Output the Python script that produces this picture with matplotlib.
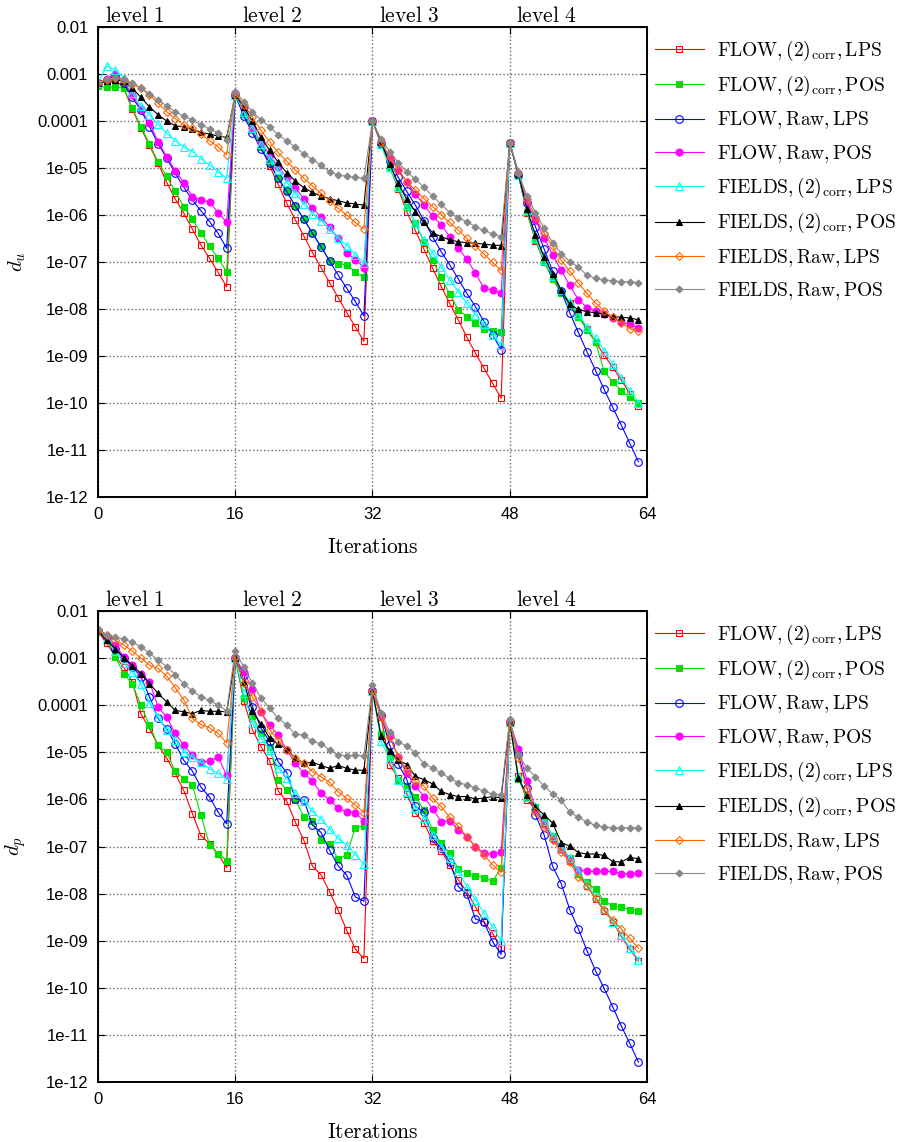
import matplotlib
matplotlib.use('Agg')
import matplotlib.pyplot as plt
from matplotlib.ticker import NullLocator
import numpy as np


ITERATIONS = list(range(64))
X_TICKS = [0, 16, 32, 48, 64]
Y_TICKS = [1e-2, 1e-3, 1e-4, 1e-5, 1e-6, 1e-7, 1e-8, 1e-9, 1e-10, 1e-11, 1e-12]
Y_TICK_LABELS = ['0.01', '0.001', '0.0001', '1e-05', '1e-06', '1e-07',
                 '1e-08', '1e-09', '1e-10', '1e-11', '1e-12']
LEVEL_NAMES = ['level 1', 'level 2', 'level 3', 'level 4']
LEVEL_STARTS = [0, 16, 32, 48]
SERIES_NAMES = ['FLOW,(2)_{corr},LPS', 'FLOW,(2)_{corr},POS',
                'FLOW,Raw,LPS', 'FLOW,Raw,POS',
                'FIELDS,(2)_{corr},LPS', 'FIELDS,(2)_{corr},POS',
                'FIELDS,Raw,LPS', 'FIELDS,Raw,POS']

### log10(d_u), one value per iteration (4 levels of 16)
DU_FLOW_CORR_LPS = [
    -3.2, -3.15, -3.12, -3.3, -3.75, -4.15, -4.52, -4.9, -5.3, -5.66, -5.96, -6.3, -6.64, -6.92, -7.22, -7.53,
    -3.45, -3.8, -4.2, -4.55, -4.95, -5.35, -5.75, -6.1, -6.45, -6.8, -7.12, -7.44, -7.76, -8.08, -8.38, -8.69,
    -4.0, -4.45, -4.95, -5.45, -5.93, -6.33, -6.73, -7.13, -7.52, -7.88, -8.23, -8.6, -8.94, -9.26, -9.58, -9.9,
    -4.46, -5.15, -5.95, -6.55, -7.0, -7.33, -7.63, -7.88, -8.14, -8.42, -8.7, -8.98, -9.24, -9.51, -9.8, -10.06]
DU_FLOW_CORR_POS = [
    -3.26, -3.28, -3.28, -3.3, -3.73, -4.12, -4.49, -4.87, -5.18, -5.5, -5.82, -6.09, -6.38, -6.67, -6.92, -7.21,
    -3.45, -3.85, -4.2, -4.56, -4.89, -5.22, -5.5, -5.81, -6.09, -6.39, -6.66, -6.98, -7.04, -7.06, -7.21, -7.33,
    -4.0, -4.5, -5.0, -5.43, -5.82, -6.18, -6.57, -6.96, -7.33, -7.68, -8.02, -8.16, -8.3, -8.43, -8.46, -8.48,
    -4.46, -5.15, -5.93, -6.53, -6.99, -7.37, -7.67, -7.91, -8.16, -8.45, -8.7, -9.33, -9.55, -9.74, -9.88, -9.99]
DU_FLOW_RAW_LPS = [
    -3.2, -3.12, -3.05, -3.2, -3.5, -3.77, -4.12, -4.48, -4.79, -5.11, -5.41, -5.68, -5.91, -6.14, -6.39, -6.71,
    -3.45, -3.9, -4.25, -4.6, -4.9, -5.22, -5.5, -5.81, -6.09, -6.39, -6.68, -6.98, -7.28, -7.56, -7.84, -8.15,
    -4.0, -4.48, -4.85, -5.2, -5.5, -5.79, -6.12, -6.46, -6.78, -7.06, -7.36, -7.67, -7.95, -8.27, -8.55, -8.87,
    -4.46, -5.15, -5.75, -6.25, -6.72, -7.2, -7.62, -8.08, -8.5, -8.91, -9.31, -9.71, -10.09, -10.47, -10.86, -11.25]
DU_FLOW_RAW_POS = [
    -3.2, -3.1, -3.0, -3.15, -3.45, -3.75, -4.04, -4.44, -4.76, -5.06, -5.31, -5.61, -5.68, -5.72, -5.95, -6.16,
    -3.4, -3.72, -4.15, -4.45, -4.72, -4.98, -5.2, -5.43, -5.65, -5.85, -6.05, -6.25, -6.5, -6.8, -6.95, -7.12,
    -4.0, -4.45, -4.79, -5.04, -5.3, -5.55, -5.79, -6.02, -6.21, -6.46, -6.71, -6.94, -7.24, -7.56, -7.6, -7.67,
    -4.46, -5.1, -5.72, -6.11, -6.48, -6.85, -7.18, -7.5, -7.8, -7.97, -8.05, -8.11, -8.2, -8.27, -8.33, -8.4]
DU_FIELDS_CORR_LPS = [
    -3.2, -2.83, -2.91, -3.09, -3.4, -3.68, -3.87, -4.07, -4.26, -4.42, -4.55, -4.65, -4.8, -4.94, -5.08, -5.22,
    -3.45, -3.8, -4.15, -4.5, -4.8, -5.05, -5.3, -5.54, -5.77, -5.97, -6.12, -6.3, -6.5, -6.65, -6.85, -7.02,
    -4.0, -4.48, -4.98, -5.4, -5.79, -6.18, -6.53, -6.8, -7.1, -7.38, -7.63, -7.88, -8.13, -8.33, -8.55, -8.77,
    -4.46, -5.15, -5.9, -6.5, -6.95, -7.3, -7.6, -7.85, -8.1, -8.38, -8.62, -8.89, -9.18, -9.46, -9.74, -9.99]
DU_FIELDS_CORR_POS = [
    -3.2, -3.15, -3.12, -3.15, -3.3, -3.5, -3.7, -3.87, -4.0, -4.1, -4.13, -4.18, -4.24, -4.28, -4.32, -4.35,
    -3.45, -3.7, -4.0, -4.35, -4.62, -4.88, -5.1, -5.28, -5.42, -5.52, -5.6, -5.65, -5.7, -5.74, -5.77, -5.79,
    -4.0, -4.45, -4.91, -5.33, -5.67, -5.93, -6.16, -6.38, -6.46, -6.53, -6.57, -6.59, -6.6, -6.62, -6.64, -6.65,
    -4.46, -5.12, -5.88, -6.43, -6.89, -7.26, -7.6, -7.9, -8.01, -8.06, -8.08, -8.11, -8.15, -8.18, -8.19, -8.23]
DU_FIELDS_RAW_LPS = [
    -3.2, -3.12, -3.08, -3.12, -3.22, -3.3, -3.45, -3.62, -3.8, -3.95, -4.08, -4.16, -4.28, -4.42, -4.55, -4.72,
    -3.42, -3.65, -3.92, -4.2, -4.44, -4.67, -4.86, -5.04, -5.22, -5.38, -5.54, -5.7, -5.86, -6.0, -6.16, -6.3,
    -4.0, -4.45, -4.76, -5.04, -5.29, -5.47, -5.65, -5.82, -5.99, -6.16, -6.32, -6.5, -6.66, -6.83, -7.01, -7.18,
    -4.46, -5.1, -5.65, -6.04, -6.38, -6.67, -6.96, -7.2, -7.45, -7.67, -7.87, -8.04, -8.18, -8.3, -8.42, -8.47]
DU_FIELDS_RAW_POS = [
    -3.18, -3.1, -3.08, -3.1, -3.2, -3.3, -3.42, -3.55, -3.68, -3.8, -3.9, -3.98, -4.08, -4.17, -4.25, -4.4,
    -3.38, -3.59, -3.8, -3.98, -4.12, -4.3, -4.42, -4.56, -4.7, -4.82, -4.94, -5.08, -5.15, -5.18, -5.2, -5.22,
    -4.0, -4.39, -4.65, -4.89, -5.08, -5.24, -5.41, -5.6, -5.77, -5.95, -6.07, -6.14, -6.25, -6.33, -6.4, -6.46,
    -4.46, -5.1, -5.6, -5.95, -6.28, -6.59, -6.82, -6.99, -7.11, -7.28, -7.35, -7.38, -7.4, -7.42, -7.42, -7.44]

### log10(d_p)
DP_FLOW_CORR_LPS = [
    -2.43, -2.69, -2.95, -3.2, -3.5, -4.18, -4.5, -4.85, -5.12, -5.45, -5.81, -6.3, -6.77, -6.94, -7.16, -7.45,
    -3.0, -3.91, -4.52, -4.88, -5.18, -5.82, -6.04, -6.48, -6.87, -7.42, -7.6, -7.96, -8.35, -8.78, -9.18, -9.38,
    -3.7, -4.25, -5.26, -5.55, -5.89, -6.29, -6.5, -6.88, -7.09, -7.39, -7.71, -7.96, -8.28, -8.6, -8.84, -9.15,
    -4.35, -5.5, -6.02, -6.2, -6.5, -6.82, -7.05, -7.3, -7.56, -7.84, -8.11, -8.36, -8.6, -8.91, -9.18, -9.43]
DP_FLOW_CORR_POS = [
    -2.43, -2.6, -2.97, -3.33, -3.55, -4.0, -4.43, -4.85, -5.0, -5.4, -5.56, -5.69, -6.34, -6.96, -7.16, -7.3,
    -3.0, -3.85, -4.22, -4.6, -4.88, -5.59, -5.8, -6.01, -6.37, -6.46, -6.87, -6.94, -7.27, -7.17, -6.6, -6.56,
    -3.7, -4.62, -5.09, -5.58, -5.72, -5.95, -6.22, -6.65, -6.93, -7.14, -7.48, -7.57, -7.62, -7.66, -7.74, -7.45,
    -4.35, -5.56, -5.95, -6.16, -6.45, -6.77, -6.98, -7.25, -7.58, -7.76, -7.91, -8.15, -8.27, -8.29, -8.34, -8.36]
DP_FLOW_RAW_LPS = [
    -2.43, -2.55, -2.8, -3.0, -3.18, -3.4, -3.82, -4.28, -4.5, -4.82, -5.17, -5.4, -5.74, -5.95, -6.27, -6.52,
    -3.0, -3.35, -4.03, -4.49, -4.77, -5.2, -5.43, -5.99, -6.01, -6.55, -6.7, -7.08, -7.41, -7.61, -8.07, -8.16,
    -3.7, -4.2, -4.85, -5.25, -5.58, -6.15, -6.27, -6.82, -7.04, -7.33, -7.85, -8.01, -8.54, -8.6, -9.02, -9.29,
    -4.35, -5.03, -5.76, -6.33, -6.75, -7.42, -7.79, -8.34, -8.75, -9.21, -9.64, -10.01, -10.4, -10.81, -11.18, -11.58]
DP_FLOW_RAW_POS = [
    -2.43, -2.58, -2.72, -2.97, -3.15, -3.33, -3.5, -4.04, -4.25, -4.6, -4.85, -5.06, -5.2, -5.19, -5.1, -5.49,
    -3.0, -3.3, -3.65, -4.15, -4.42, -4.63, -4.95, -5.23, -5.45, -5.61, -5.87, -6.01, -6.19, -6.26, -6.28, -6.46,
    -3.7, -4.23, -4.66, -5.1, -5.45, -5.72, -5.94, -6.2, -6.47, -6.45, -6.65, -6.79, -7.0, -7.14, -7.16, -7.11,
    -4.35, -4.92, -5.6, -6.2, -6.52, -6.84, -7.05, -7.28, -7.49, -7.53, -7.53, -7.53, -7.53, -7.58, -7.58, -7.56]
DP_FIELDS_CORR_LPS = [
    -2.43, -2.6, -2.85, -3.11, -3.3, -3.55, -3.96, -4.25, -4.53, -4.74, -4.99, -5.1, -5.21, -5.35, -5.45, -5.56,
    -3.0, -3.75, -4.38, -4.7, -4.95, -5.33, -5.54, -5.87, -6.04, -6.25, -6.42, -6.63, -6.83, -6.97, -7.17, -7.38,
    -3.7, -4.77, -5.15, -5.58, -5.85, -6.18, -6.4, -6.75, -7.0, -7.25, -7.53, -7.85, -8.13, -8.42, -8.7, -9.01,
    -4.35, -5.5, -5.95, -6.15, -6.45, -6.78, -7.0, -7.25, -7.52, -7.8, -8.06, -8.33, -8.6, -8.88, -9.15, -9.4]
DP_FIELDS_CORR_POS = [
    -2.43, -2.62, -2.8, -2.99, -3.16, -3.33, -3.54, -3.75, -3.93, -4.11, -4.14, -4.18, -4.11, -4.13, -4.13, -4.14,
    -3.0, -3.5, -4.13, -4.4, -4.7, -4.83, -4.92, -5.13, -5.23, -5.21, -5.28, -5.34, -5.28, -5.34, -5.38, -5.38,
    -3.7, -4.66, -4.98, -5.16, -5.26, -5.51, -5.58, -5.67, -5.83, -5.9, -5.94, -5.94, -5.99, -5.97, -5.94, -5.97,
    -4.35, -5.55, -5.91, -6.16, -6.33, -6.5, -6.92, -6.99, -7.13, -7.16, -7.16, -7.19, -7.32, -7.33, -7.23, -7.26]
DP_FIELDS_RAW_LPS = [
    -2.43, -2.5, -2.62, -2.72, -2.85, -3.0, -3.15, -3.22, -3.38, -3.63, -3.89, -4.28, -4.41, -4.48, -4.6, -4.8,
    -2.97, -3.53, -3.82, -4.13, -4.52, -4.74, -4.95, -5.13, -5.23, -5.41, -5.52, -5.64, -5.84, -5.98, -6.12, -6.28,
    -3.7, -4.25, -4.68, -5.09, -5.37, -5.62, -5.72, -5.97, -6.15, -6.38, -6.57, -6.79, -7.02, -7.18, -7.39, -7.55,
    -4.35, -5.13, -5.77, -6.27, -6.59, -6.87, -7.12, -7.33, -7.65, -7.83, -8.1, -8.34, -8.55, -8.75, -8.95, -9.16]
DP_FIELDS_RAW_POS = [
    -2.38, -2.5, -2.55, -2.6, -2.66, -2.76, -2.9, -3.04, -3.18, -3.35, -3.55, -3.7, -3.82, -3.9, -4.0, -4.12,
    -2.84, -3.2, -3.53, -3.85, -4.06, -4.28, -4.42, -4.62, -4.63, -4.77, -4.82, -4.95, -5.06, -5.07, -5.06, -5.08,
    -3.57, -4.16, -4.57, -4.78, -4.87, -5.01, -5.25, -5.33, -5.44, -5.55, -5.65, -5.69, -5.76, -5.82, -5.89, -5.9,
    -4.3, -5.06, -5.33, -5.52, -5.72, -5.88, -6.02, -6.27, -6.38, -6.48, -6.55, -6.59, -6.6, -6.6, -6.6, -6.6]

DU_SERIES = [DU_FLOW_CORR_LPS, DU_FLOW_CORR_POS, DU_FLOW_RAW_LPS, DU_FLOW_RAW_POS,
             DU_FIELDS_CORR_LPS, DU_FIELDS_CORR_POS, DU_FIELDS_RAW_LPS, DU_FIELDS_RAW_POS]
DP_SERIES = [DP_FLOW_CORR_LPS, DP_FLOW_CORR_POS, DP_FLOW_RAW_LPS, DP_FLOW_RAW_POS,
             DP_FIELDS_CORR_LPS, DP_FIELDS_CORR_POS, DP_FIELDS_RAW_LPS, DP_FIELDS_RAW_POS]

# gnuplot-like line styles: (color, marker, filled, size)
STYLES = [
    ('#ff0000', 's', False, 5.0),
    ('#00e000', 's', True, 5.0),
    ('#0000ff', 'o', False, 5.5),
    ('#ff00ff', 'o', True, 5.0),
    ('#00ffff', '^', False, 5.5),
    ('#000000', '^', True, 4.0),
    ('#ff6600', 'D', False, 4.0),
    ('#888888', 'D', True, 3.5),
]

plt.rcParams['mathtext.fontset'] = 'cm'
plt.rcParams['font.family'] = ['Liberation Sans', 'DejaVu Sans']


def     draw_panel(ax, series, ylabel):
    '''
    Draw one convergence panel
    '''
    for values, name, style in zip(series, SERIES_NAMES, STYLES):
        color, marker, filled, size = style
        ax.plot(
            ITERATIONS,
            10.0 ** np.array(values),
            color=color,
            lw=0.8,
            marker=marker,
            markersize=size,
            markeredgewidth=0.8,
            markerfacecolor=color if filled else 'none',
            markeredgecolor=color,
            label=r'$\mathrm{' + name + '}$',
        )
    ### Axes
    ax.set_yscale('log')
    ax.set_xlim(0, 64)
    ax.set_ylim(1e-12, 1e-2)
    ax.set_xticks(X_TICKS)
    ax.set_xticklabels([str(t) for t in X_TICKS])
    ax.set_yticks(Y_TICKS)
    ax.set_yticklabels(Y_TICK_LABELS)
    ax.yaxis.set_minor_locator(NullLocator())
    ax.tick_params(direction='in', top=True, right=True, length=5,
                   width=0.8, labelsize=12)
    ax.tick_params(axis='x', pad=7)
    ax.tick_params(axis='y', pad=7)
    ax.grid(True, ls=':', lw=1.0, color='#666666')
    for spine in ax.spines.values():
        spine.set_linewidth(1.4)
    ### Level names on top
    for start, name in zip(LEVEL_STARTS, LEVEL_NAMES):
        ax.text(start + 4.3, 1.011, r'$\mathrm{' + name.replace(' ', r'\ ') + '}$',
                transform=ax.get_xaxis_transform(), ha='center',
                va='baseline', fontsize=15.5)
    ax.set_xlabel(r'$\mathrm{Iterations}$', fontsize=15.5)
    ax.xaxis.set_label_coords(0.5, -0.085)
    ax.set_ylabel(ylabel, fontsize=15)
    ax.yaxis.set_label_coords(-0.128, 0.5)
    ax.legend(
        loc='upper left',
        bbox_to_anchor=(1.0146, 0.975),
        frameon=False,
        fontsize=14,
        borderpad=0,
        borderaxespad=0,
        handlelength=2.5,
        handletextpad=0.7,
        labelspacing=0.58,
    )


def     main():
    '''
    Build both panels and save the figure
    '''
    figure = plt.figure(figsize=(9.15, 11.42), dpi=100)
    ax_u = figure.add_axes([0.1071, 0.5648, 0.6, 0.4116])
    ax_p = figure.add_axes([0.1071, 0.0525, 0.6, 0.4125])
    draw_panel(ax_u, DU_SERIES, r'$d_u$')
    draw_panel(ax_p, DP_SERIES, r'$d_p$')
    figure.savefig('out.png', dpi=100)


main()
